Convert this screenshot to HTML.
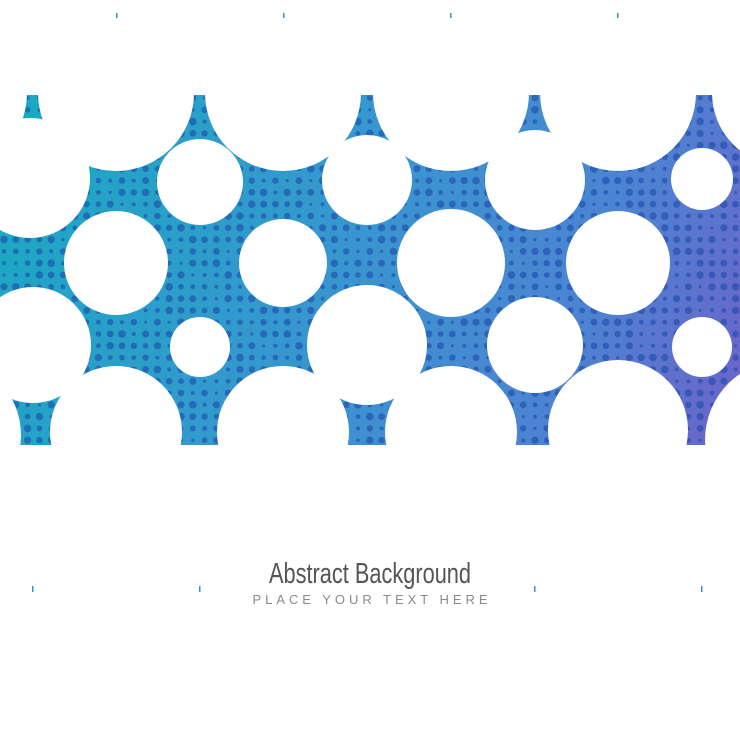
<!DOCTYPE html>
<html><head><meta charset="utf-8"><style>
html,body{margin:0;padding:0;background:#fff;}
svg{display:block}
</style></head><body>
<svg id="bg" width="740" height="740" viewBox="0 0 740 740" xmlns="http://www.w3.org/2000/svg">
<defs>
<linearGradient id="grad" gradientUnits="userSpaceOnUse" x1="0" y1="150" x2="740" y2="445">
<stop offset="0" stop-color="#1aa9c2"/>
<stop offset="0.45" stop-color="#3896cf"/>
<stop offset="0.75" stop-color="#4c84d2"/>
<stop offset="1" stop-color="#6e62c8"/>
</linearGradient>
<mask id="cut">
<rect x="0" y="95" width="740" height="350" fill="#fff"/>
<g id="holes" fill="#000"></g>
</mask>
</defs>
<g mask="url(#cut)">
<rect x="0" y="95" width="740" height="350" fill="url(#grad)"/>
<g id="dots" fill="#1d4aaa" fill-opacity="0.6"></g>
</g>
<g fill="#3a8fd0">
<rect x="116" y="13" width="1.5" height="5"/><rect x="283" y="13" width="1.5" height="5"/>
<rect x="450" y="13" width="1.5" height="5"/><rect x="617" y="13" width="1.5" height="5"/>
<rect x="32" y="586" width="1.5" height="6"/><rect x="199" y="586" width="1.5" height="6"/>
<rect x="534" y="586" width="1.5" height="6"/><rect x="701" y="586" width="1.5" height="6"/>
</g>
<text x="370" y="583" text-anchor="middle" font-family="Liberation Sans, sans-serif" font-size="29" fill="#555" textLength="202" lengthAdjust="spacingAndGlyphs">Abstract Background</text>
<text x="370" y="604" text-anchor="middle" font-family="Liberation Sans, sans-serif" font-size="13" fill="#8a8a8a" textLength="235" lengthAdjust="spacing">PLACE YOUR TEXT HERE</text>
</svg>
<script>
var NS='http://www.w3.org/2000/svg';
var holes=[
[-51,93,78],[116,93,78],[283,93,78],[451,93,78],[618,93,78],[785,93,73],
[30,178,60],[200,182,43],[367,180,45],[535,180,50],[702,179,31],
[116,263,52],[283,263,44],[451,263,54],[618,263,52],
[33,345,58],[200,347,30],[367,345,60],[535,345,48],[702,347,30],
[-55,435,76],[116,432,66],[283,432,66],[451,432,66],[618,430,70],[785,440,80]
];
var hg=document.getElementById('holes');
holes.forEach(function(h){var c=document.createElementNS(NS,'circle');c.setAttribute('cx',h[0]);c.setAttribute('cy',h[1]);c.setAttribute('r',h[2]);hg.appendChild(c);});
var dg=document.getElementById('dots');
var sizes=[3.6,2.4,3.2,1.6,3.8,2.8,2.0,3.4];
for(var j=0;j<31;j++){for(var i=0;i<64;i++){
 var c=document.createElementNS(NS,'circle');
 
 
 c.setAttribute('cx',(4+i*11.8).toFixed(1));c.setAttribute('cy',(98+j*11.8).toFixed(1));
 c.setAttribute('r',sizes[(i*3+j*5+((i*j)%3))%8]);dg.appendChild(c);}}
</script>
</body></html>
